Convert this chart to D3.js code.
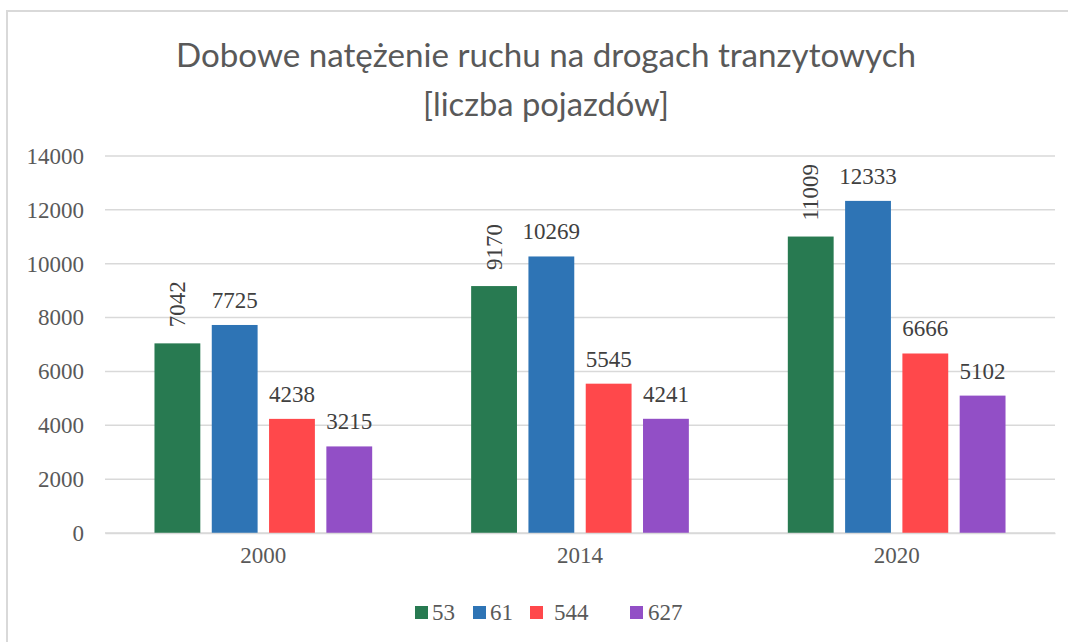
<!DOCTYPE html>
<html>
<head>
<meta charset="utf-8">
<script src="https://cdn.jsdelivr.net/npm/d3@7"></script>
<style>
  html, body { margin: 0; padding: 0; background: #fff; }
  svg { display: block; }
</style>
</head>
<body>
<svg id="chart" width="1068" height="642"></svg>
<script>
// dane z wykresu
const years = ['2000', '2014', '2020'];
const series = ['53', '61', '544', '627'];
const values53 = [7042, 9170, 11009];
const values61 = [7725, 10269, 12333];
const values544 = [4238, 5545, 6666];
const values627 = [3215, 4241, 5102];
const yTicks = [0, 2000, 4000, 6000, 8000, 10000, 12000, 14000];
const titleLines = ['Dobowe natężenie ruchu na drogach tranzytowych', '[liczba pojazdów]'];

const colors = ['#287a51', '#2e74b5', '#ff484b', '#924fc6'];
const allValues = [values53, values61, values544, values627];

const svg = d3.select('#chart');
const width = 1068, height = 642;
const margin = { top: 156, right: 13, bottom: 109, left: 105 };
const plotW = width - margin.left - margin.right;
const plotH = height - margin.top - margin.bottom;

// ramka (tylko lewa i górna krawędź widoczna)
svg.append('rect')
  .attr('x', 7).attr('y', 11)
  .attr('width', 1100).attr('height', 700)
  .attr('fill', 'none')
  .attr('stroke', '#d9d9d9')
  .attr('stroke-width', 2);

// TYTUŁ
const titleSpec = [{ y: 67, len: 740 }, { y: 116, len: 246 }];
svg.selectAll('text.title')
  .data(titleLines)
  .enter()
  .append('text')
  .attr('class', 'title')
  .attr('x', 546)
  .attr('y', (d, i) => titleSpec[i].y)
  .attr('text-anchor', 'middle')
  .attr('font-family', 'Lato, "Open Sans", sans-serif')
  .attr('font-size', 32)
  .attr('fill', '#595959')
  .attr('textLength', (d, i) => titleSpec[i].len)
  .attr('lengthAdjust', 'spacingAndGlyphs')
  .text((d) => d);

const g = svg.append('g').attr('transform', `translate(${margin.left},${margin.top})`);

// SKALE
const y = d3.scaleLinear().domain([0, 14000]).range([plotH, 0]);
const x0 = d3.scaleBand().domain(years).range([0, plotW]).paddingInner(0.3125).paddingOuter(0.15625);
const x1 = d3.scaleBand().domain(series).range([0, x0.bandwidth()]).paddingInner(0.2).paddingOuter(0);

// linie siatki
g.append('g')
  .selectAll('line')
  .data(yTicks)
  .enter()
  .append('line')
  .attr('x1', 0).attr('x2', plotW)
  .attr('y1', (d) => y(d)).attr('y2', (d) => y(d))
  .attr('stroke', '#d9d9d9')
  .attr('stroke-width', 1.5);

// oś Y
const yAxis = d3.axisLeft(y).tickValues(yTicks).tickSize(0).tickPadding(21).tickFormat(d3.format('d'));
const yAxisGroup = g.append('g').call(yAxis);
yAxisGroup.select('.domain').remove();
yAxisGroup.selectAll('text')
  .attr('font-family', '"Liberation Serif", "Times New Roman", serif')
  .attr('font-size', 23)
  .attr('fill', '#595959');

// słupki
const rows = [];
years.forEach((yr, i) => {
  series.forEach((s, j) => {
    rows.push({ year: yr, s: s, j: j, v: allValues[j][i] });
  });
});

const bars = g.append('g').selectAll('rect').data(rows);
bars.enter()
  .append('rect')
  .attr('x', (d) => x0(d.year) + x1(d.s))
  .attr('y', (d) => y(d.v))
  .attr('width', x1.bandwidth())
  .attr('height', (d) => plotH - y(d.v))
  .attr('fill', (d) => colors[d.j]);

// oś X
const xAxis = d3.axisBottom(x0).tickSize(0).tickPadding(14);
const xAxisGroup = g.append('g').attr('transform', `translate(0,${plotH})`).call(xAxis);
xAxisGroup.select('.domain').attr('stroke', '#d9d9d9').attr('stroke-width', 1.5);
xAxisGroup.selectAll('text')
  .attr('font-family', '"Liberation Serif", "Times New Roman", serif')
  .attr('font-size', 23)
  .attr('fill', '#595959');

// etykiety danych (seria 53 obrócona)
const labels = g.append('g').selectAll('text').data(rows).enter().append('text')
  .attr('font-family', '"Liberation Serif", "Times New Roman", serif')
  .attr('font-size', 23)
  .attr('fill', '#404040')
  .text((d) => d.v);

labels.filter((d) => d.j !== 0)
  .attr('x', (d) => x0(d.year) + x1(d.s) + x1.bandwidth() / 2)
  .attr('y', (d) => y(d.v) - 17)
  .attr('text-anchor', 'middle');

labels.filter((d) => d.j === 0)
  .attr('text-anchor', 'start')
  .attr('dominant-baseline', 'central')
  .attr('transform', (d) => {
    const cx = x0(d.year) + x1(d.s) + x1.bandwidth() / 2;
    const cy = y(d.v) - 16;
    return `translate(${cx},${cy}) rotate(-90)`;
  });

// LEGENDA
const legendX = [415, 473, 530, 630];
const legendTextGap = [17, 17, 24, 18];
const legend = svg.append('g').selectAll('g').data(series).enter().append('g')
  .attr('transform', (d, i) => `translate(${legendX[i]},606)`);
legend.append('rect')
  .attr('width', 13).attr('height', 13)
  .attr('fill', (d, i) => colors[i]);
legend.append('text')
  .attr('x', (d, i) => legendTextGap[i])
  .attr('y', 14)
  .attr('font-family', '"Liberation Serif", "Times New Roman", serif')
  .attr('font-size', 23)
  .attr('fill', '#595959')
  .text((d) => d);
</script>
</body>
</html>
